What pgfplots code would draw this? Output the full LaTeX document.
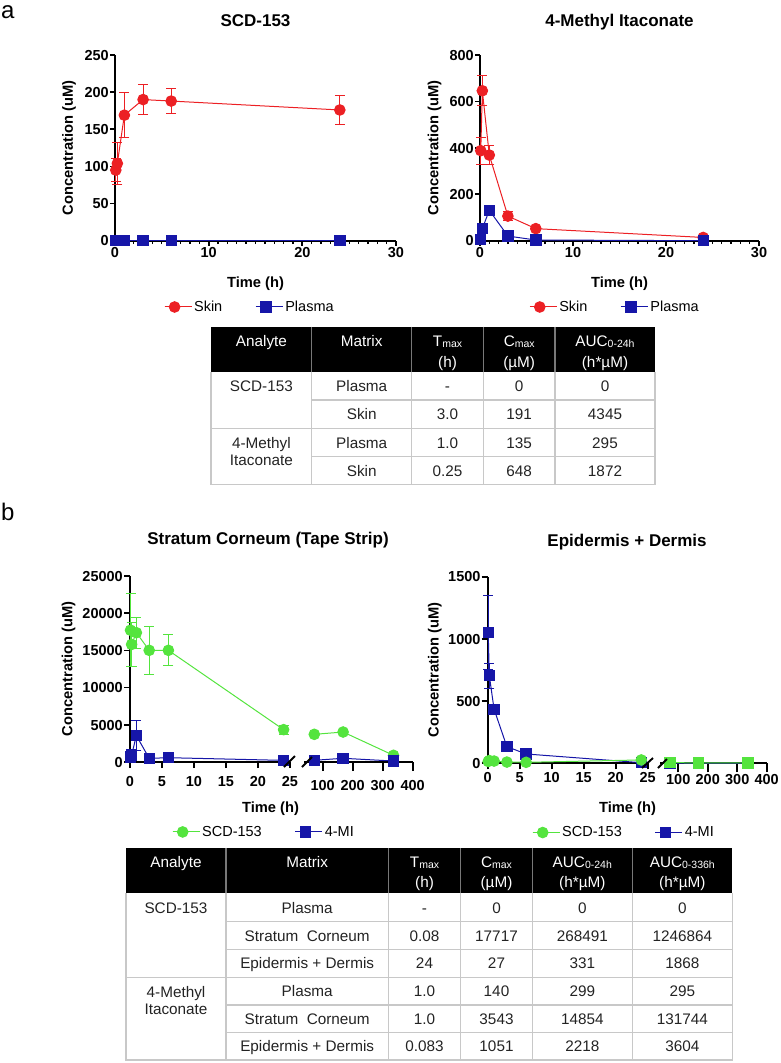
\documentclass[border=0pt]{standalone}
\usepackage{pgfplots}
\pgfplotsset{compat=1.18}
\usepackage{fontspec}
\setmainfont{Liberation Sans}
\definecolor{cred}{RGB}{236,32,36}
\definecolor{cblue}{RGB}{22,22,168}
\definecolor{cgreen}{RGB}{84,228,62}
\definecolor{gridg}{RGB}{200,200,200}
\definecolor{hdrg}{RGB}{120,120,120}
\definecolor{txt}{RGB}{35,35,35}
\newcommand{\sub}[1]{\raisebox{-1.5pt}{\fontsize{10.5}{12}\selectfont #1}}

\pgfplotsset{
 gp/.style={
  scale only axis, clip=false, anchor=south west,
  axis x line*=bottom, axis y line*=left,
  every outer x axis line/.append style={-},
  every outer y axis line/.append style={-},
  axis line style={line width=1.9pt, black, -},
  scaled ticks=false,
  tick align=outside,
  major tick length=5pt, minor tick length=3.5pt,
  major tick style={line width=1.7pt, black},
  minor tick style={line width=1.3pt, black},
  tick label style={font=\bfseries\fontsize{14.5}{16}\selectfont, text height=10.4pt, text depth=0pt, inner sep=1pt},
  /pgf/number format/assume math mode=true,
  /pgf/number format/1000 sep={},
  label style={font=\bfseries\fontsize{14.7}{17}\selectfont, text height=10.6pt, text depth=0pt, inner sep=0pt},
  title style={font=\bfseries\fontsize{17}{20}\selectfont, text height=12.3pt, text depth=0pt, inner sep=0pt, anchor=center},
  legend columns=2,
  legend cell align=left,
  legend style={draw=none, fill=none, anchor=center, inner sep=0pt, font=\fontsize{14.5}{16}\selectfont, /tikz/every even column/.append style={column sep=31pt}},
  legend image code/.code={\draw[##1, mark repeat=2, mark phase=2] plot coordinates {(0pt,0pt) (10pt,0pt) (20pt,0pt)}; \path (0pt,0pt) -- (27pt,0pt);},
  ylabel style={anchor=center},
  xlabel style={anchor=center},
 },
 ebs/.style={error bars/y dir=both, error bars/y explicit,
  error bars/error bar style={line width=1pt, #1},
  error bars/error mark options={rotate=90, mark size=5pt, line width=1pt, #1}},
}

\begin{document}
\begin{tikzpicture}
\useasboundingbox (0pt,0pt) rectangle (780pt,-1063pt);

% ---------------- panel a, left ----------------
\begin{axis}[gp, at={(115pt,-240.7pt)}, width=281pt, height=185.7pt,
  xmin=0, xmax=30, ymin=0, ymax=250,
  xtick={0,10,20,30}, minor x tick num=9, ytick={0,50,...,250},
  title={SCD-153}, title style={at={(0.5,1)}, yshift=29pt},
  xlabel={Time (h)}, xlabel style={at={(axis description cs:0.5,0)}, yshift=-41.5pt},
  ylabel={Concentration (uM)}, ylabel style={at={(axis description cs:-0.169,0.5)}},
  legend style={at={(0.48,-0.357)}}]
\addplot[cred, line width=1pt, mark=*, mark size=5.3pt, mark options={solid}, ebs=cred]
  coordinates {(0.083,95) +- (0,15) (0.25,104) +- (0,28) (1,169) +- (0,30) (3,190) +- (0,20) (6,188) +- (0,17) (24,176) +- (0,20)};
\addlegendentry{Skin}
\addplot[cblue, line width=1pt, mark=square*, mark size=5.2pt, mark options={solid}]
  coordinates {(0.083,0) (0.25,0) (1,0) (3,0) (6,0) (24,0)};
\addlegendentry{Plasma}
\end{axis}

% ---------------- panel a, right ----------------
\begin{axis}[gp, at={(480pt,-240.7pt)}, width=279pt, height=185.7pt,
  xmin=0, xmax=30, ymin=0, ymax=800,
  xtick={0,10,20,30}, minor x tick num=9, ytick={0,200,...,800},
  title={4-Methyl Itaconate}, title style={at={(0.5,1)}, yshift=29pt},
  xlabel={Time (h)}, xlabel style={at={(axis description cs:0.5,0)}, yshift=-41.5pt},
  ylabel={Concentration (uM)}, ylabel style={at={(axis description cs:-0.1685,0.5)}},
  legend style={at={(0.484,-0.357)}}]
\addplot[cred, line width=1pt, mark=*, mark size=5.3pt, mark options={solid}, ebs=cred]
  coordinates {(0.083,388) +- (0,58) (0.25,646) +- (0,65) (1,369) +- (0,41) (3,106) +- (0,20) (6,52) +- (0,5) (24,14) +- (0,4)};
\addlegendentry{Skin}
\addplot[cblue, line width=1pt, mark=square*, mark size=5.2pt, mark options={solid}]
  coordinates {(0.083,6) (0.25,52) (1,131) (3,20) (6,3) (24,0)};
\addlegendentry{Plasma}
\end{axis}

% ---------------- panel b, left (broken axis) ----------------
\begin{axis}[gp, at={(130pt,-762pt)}, width=160pt, height=186pt,
  xmin=0, xmax=25, ymin=0, ymax=25000,
  xtick={0,5,...,25}, ytick={0,5000,...,25000}, major tick length=6pt,
  xticklabel shift=7pt,
  title={Stratum Corneum (Tape Strip)}, title style={at={(0.8625,1)}, yshift=31.8pt},
  xlabel={Time (h)}, xlabel style={at={(axis description cs:0.878,0)}, yshift=-45pt},
  ylabel={Concentration (uM)}, ylabel style={at={(axis description cs:-0.3925,0.5)}},
  legend style={at={(0.8375,-0.376)}}]
\addplot[cgreen, line width=1pt, mark=*, mark size=5.3pt, mark options={solid}, ebs=cgreen]
  coordinates {(0.083,17717) +- (0,4900) (0.25,15800) +- (0,3000) (1,17380) +- (0,2100) (3,15010) +- (0,3200) (6,15010) +- (0,2100) (24,4350) +- (0,620)};
\addlegendentry{SCD-153}
\addplot[cblue, line width=1pt, mark=square*, mark size=5.2pt, mark options={solid}, ebs=cblue]
  coordinates {(0.083,670) +- (0,150) (0.25,940) +- (0,200) (1,3543) +- (0,2040) (3,490) +- (0,80) (6,580) +- (0,90) (24,220) +- (0,40)};
\addlegendentry{4-MI}
\end{axis}
\begin{axis}[gp, at={(304.1pt,-762pt)}, width=108.6pt, height=186pt,
  xmin=38, xmax=400, ymin=0, ymax=25000, axis y line=none,
  xtick={100,200,300,400}, major tick length=9pt, xticklabel shift=8pt]
\addplot[cgreen, line width=1pt, mark=*, mark size=5.3pt, mark options={solid}]
  coordinates {(72,3720) (168,4030) (336,900)};
\addplot[cblue, line width=1pt, mark=square*, mark size=5.2pt, mark options={solid}]
  coordinates {(72,230) (168,500) (336,130)};
\end{axis}

% ---------------- panel b, right (broken axis) ----------------
\begin{axis}[gp, at={(487.7pt,-763.3pt)}, width=160pt, height=186.6pt,
  xmin=0, xmax=25, ymin=0, ymax=1500,
  xtick={0,5,...,25}, ytick={0,500,...,1500}, major tick length=6pt,
  xticklabel shift=2pt,
  title={Epidermis + Dermis}, title style={at={(0.871,1)}, yshift=30pt},
  xlabel={Time (h)}, xlabel style={at={(axis description cs:0.874,0)}, yshift=-43.7pt},
  ylabel={Concentration (uM)}, ylabel style={at={(axis description cs:-0.34,0.5)}},
  legend style={at={(0.852,-0.371)}}]
\addlegendimage{cgreen, line width=1pt, mark=*, mark size=5.3pt, mark options={solid}}
\addlegendentry{SCD-153}
\addlegendimage{cblue, line width=1pt, mark=square*, mark size=5.2pt, mark options={solid}}
\addlegendentry{4-MI}
\addplot[forget plot, cblue, line width=1pt, mark=square*, mark size=5.2pt, mark options={solid}, ebs=cblue]
  coordinates {(0.083,1051) +- (0,296) (0.25,705) +- (0,100) (1,434) +- (0,20) (3,134) +- (0,15) (6,75) +- (0,37) (24,5) +- (0,3)};
\addplot[forget plot, cgreen, line width=1pt, mark=*, mark size=5.3pt, mark options={solid}]
  coordinates {(0.083,15) (0.25,22) (1,18) (3,10) (6,8) (24,27)};
\end{axis}
\begin{axis}[gp, at={(660pt,-763.3pt)}, width=106.7pt, height=186.6pt,
  xmin=38, xmax=400, ymin=0, ymax=1500, axis y line=none,
  xtick={100,200,300,400}, major tick length=9pt, xticklabel shift=1pt]
\addplot[cblue, line width=1pt, mark=square*, mark size=5.2pt, mark options={solid}]
  coordinates {(72,2) (168,1) (336,1)};
\addplot[cgreen, line width=1pt, mark=square*, mark size=5.2pt, mark options={solid}]
  coordinates {(72,5) (168,4) (336,3)};
\end{axis}

% break marks
\begin{scope}[line width=1.9pt]
\draw (284pt,-767pt) -- (295pt,-756pt);
\draw (302pt,-767pt) -- (312pt,-757pt);
\draw (642pt,-768pt) -- (653pt,-758pt);
\draw (658pt,-768pt) -- (667pt,-759pt);
\end{scope}

% panel letters
\node[anchor=base west, inner sep=0pt, font=\fontsize{24}{26}\selectfont] at (1pt,-18.3pt) {a};
\node[anchor=base west, inner sep=0pt, font=\fontsize{24}{26}\selectfont] at (1pt,-520pt) {b};

% ---------------- tables ----------------
\begin{scope}[x=1pt,y=-1pt]
% table a
\fill[black] (211,326.7) rectangle (655,371.7);
\draw[gridg, line width=1.2pt] (211,371.7) -- (211,484.3) -- (655,484.3) -- (655,371.7);
\draw[gridg, line width=1.2pt] (311.7,400) -- (655,400) (211,428.3) -- (655,428.3) (311.7,456.7) -- (655,456.7);
\foreach \c in {311.7,411.7,483.3,555} {\draw[gridg, line width=1.2pt] (\c,371.7) -- (\c,484.3);
  \draw[hdrg, line width=1.2pt] (\c,326.7) -- (\c,371.7);}
\begin{scope}[every node/.style={font=\fontsize{15.3}{18}\selectfont, text height=11pt, text depth=0pt, inner sep=0pt, anchor=center, text=white}]
\node at (261.4,340.7) {Analyte};
\node at (361.7,340.7) {Matrix};
\node at (447.5,340.7) {T\sub{max}};
\node at (447.5,361.7) {(h)};
\node at (519.2,340.7) {C\sub{max}};
\node at (519.2,361.7) {(µM)};
\node at (605,340.7) {AUC\sub{0-24h}};
\node at (605,361.7) {(h*µM)};
\end{scope}
\begin{scope}[every node/.style={font=\fontsize{15.3}{18}\selectfont, text height=11pt, text depth=0pt, inner sep=0pt, anchor=center, text=txt}]
\node at (261.4,385.9) {SCD-153};
\node at (261.4,442.7) {4-Methyl};
\node at (261.4,460) {Itaconate};
\node at (361.7,385.9) {Plasma};
\node at (361.7,414.2) {Skin};
\node at (361.7,442.5) {Plasma};
\node at (361.7,470.5) {Skin};
\node at (447.5,385.9) {-};
\node at (447.5,414.2) {3.0};
\node at (447.5,442.5) {1.0};
\node at (447.5,470.5) {0.25};
\node at (519.2,385.9) {0};
\node at (519.2,414.2) {191};
\node at (519.2,442.5) {135};
\node at (519.2,470.5) {648};
\node at (605,385.9) {0};
\node at (605,414.2) {4345};
\node at (605,442.5) {295};
\node at (605,470.5) {1872};
\end{scope}

% table b
\fill[black] (126,848.3) rectangle (732.3,893.3);
\draw[gridg, line width=1.2pt] (126,893.3) -- (126,1060) -- (732.3,1060) -- (732.3,893.3);
\draw[gridg, line width=1.2pt] (226,921.7) -- (732.3,921.7) (226,949.3) -- (732.3,949.3) (126,977.3) -- (732.3,977.3) (226,1005) -- (732.3,1005) (226,1032.7) -- (732.3,1032.7);
\foreach \c in {226,388.3,460.7,532.3,632.3} {\draw[gridg, line width=1.2pt] (\c,893.3) -- (\c,1060);
  \draw[hdrg, line width=1.2pt] (\c,848.3) -- (\c,893.3);}
\begin{scope}[every node/.style={font=\fontsize{15.3}{18}\selectfont, text height=11pt, text depth=0pt, inner sep=0pt, anchor=center, text=white}]
\node at (176,861.7) {Analyte};
\node at (307.2,861.7) {Matrix};
\node at (424.5,861.7) {T\sub{max}};
\node at (424.5,881.7) {(h)};
\node at (496.5,861.7) {C\sub{max}};
\node at (496.5,881.7) {(µM)};
\node at (582.3,861.7) {AUC\sub{0-24h}};
\node at (582.3,881.7) {(h*µM)};
\node at (682.3,861.7) {AUC\sub{0-336h}};
\node at (682.3,881.7) {(h*µM)};
\end{scope}
\begin{scope}[every node/.style={font=\fontsize{15.3}{18}\selectfont, text height=11pt, text depth=0pt, inner sep=0pt, anchor=center, text=txt}]
\node at (176,907.5) {SCD-153};
\node at (176,991.7) {4-Methyl};
\node at (176,1009) {Itaconate};
\node at (307.2,907.5) {Plasma};
\node at (307.2,935.5) {Stratum\ \ Corneum};
\node at (307.2,963.3) {Epidermis + Dermis};
\node at (307.2,991.2) {Plasma};
\node at (307.2,1018.9) {Stratum\ \ Corneum};
\node at (307.2,1046.4) {Epidermis + Dermis};
\node at (424.5,907.5) {-};
\node at (424.5,935.5) {0.08};
\node at (424.5,963.3) {24};
\node at (424.5,991.2) {1.0};
\node at (424.5,1018.9) {1.0};
\node at (424.5,1046.4) {0.083};
\node at (496.5,907.5) {0};
\node at (496.5,935.5) {17717};
\node at (496.5,963.3) {27};
\node at (496.5,991.2) {140};
\node at (496.5,1018.9) {3543};
\node at (496.5,1046.4) {1051};
\node at (582.3,907.5) {0};
\node at (582.3,935.5) {268491};
\node at (582.3,963.3) {331};
\node at (582.3,991.2) {299};
\node at (582.3,1018.9) {14854};
\node at (582.3,1046.4) {2218};
\node at (682.3,907.5) {0};
\node at (682.3,935.5) {1246864};
\node at (682.3,963.3) {1868};
\node at (682.3,991.2) {295};
\node at (682.3,1018.9) {131744};
\node at (682.3,1046.4) {3604};
\end{scope}
\end{scope}
\end{tikzpicture}
\end{document}
